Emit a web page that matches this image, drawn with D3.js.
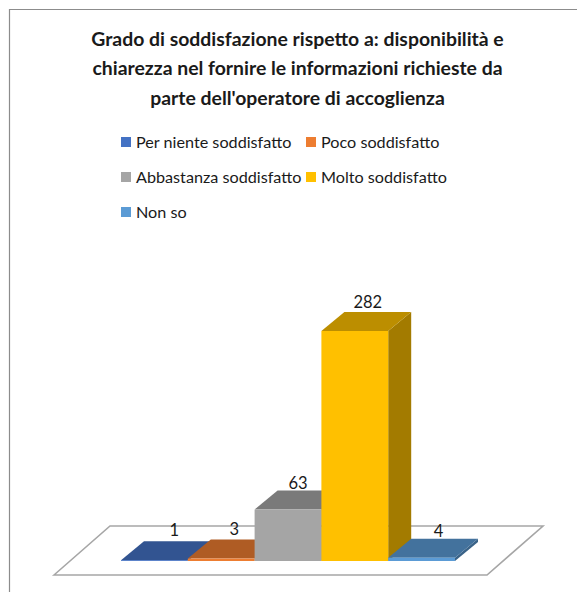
<!DOCTYPE html>
<html><head><meta charset="utf-8">
<script src="https://cdn.jsdelivr.net/npm/d3@7"></script>
<style>html,body{margin:0;padding:0;background:#fff;overflow:hidden}svg{display:block}text{font-family:Lato,"Open Sans",sans-serif;fill:#1a1a1a}</style>
</head><body>
<script>
const titleLines = ["Grado di soddisfazione rispetto a: disponibilità e","chiarezza nel fornire le informazioni richieste da","parte dell'operatore di accoglienza"];
const categories = ["Per niente soddisfatto","Poco soddisfatto","Abbastanza soddisfatto","Molto soddisfatto","Non so"];
const values = [1,3,63,282,4];
const frontColors = ["#4472c4","#ed7d31","#a5a5a5","#ffc000","#5b9bd5"];
const legendColumn = [0,1,0,1,0];
const legendRow = [0,0,1,1,2];

const W=577,H=592;
const svg=d3.select("body").append("svg").attr("width",W).attr("height",H);
const dx=23,dy=19;
const x=d3.scaleBand().domain(categories).range([121,455]).paddingInner(0).paddingOuter(0);
const y=d3.scaleLinear().domain([0,282]).range([561,331]);

// hand-placed data label nudges, as placed in the original chart
const labelShiftX=[20,13,10,13,17];
const labelShiftY=[-1,0,3,0,3];

// frame
svg.append("path").attr("d",`M9.5,${H}V9.5H${W}`).attr("fill","none").attr("stroke","#8c8c8c").attr("stroke-width",1.2);

// title
svg.append("g").selectAll("text").data(titleLines).join("text")
  .attr("x",297.5).attr("y",(d,i)=>45.5+i*29.5).attr("text-anchor","middle")
  .attr("font-size",19.4).attr("font-weight",700).text(d=>d);

// legend
const lx=d3.scaleOrdinal().domain([0,1]).range([121,306]);
const ly=d3.scaleOrdinal().domain([0,1,2]).range([142,177,212]);
const leg=svg.append("g").selectAll("g").data(categories).join("g")
  .attr("transform",(d,i)=>`translate(${lx(legendColumn[i])},${ly(legendRow[i])})`);
leg.append("rect").attr("x",0).attr("y",-5).attr("width",10).attr("height",10).attr("fill",(d,i)=>frontColors[i]);
leg.append("text").attr("x",15).attr("y",6).attr("font-size",16.2).text(d=>d);

// floor
svg.append("path").attr("d",d3.line()([[54,575],[110,526],[543,526],[487,575]])+"Z")
  .attr("fill","#fff").attr("stroke","#a6a6a6").attr("stroke-width",1.6);

// bars
const line=d3.line();
const bars=svg.append("g").selectAll("g").data(categories).join("g");
bars.each(function(c,i){
  const g=d3.select(this),x0=x(c),x1=x0+x.bandwidth(),yt=y(values[i]),yb=y(0);
  const col=d3.color(frontColors[i]);
  g.append("path").attr("d",line([[x1,yt],[x1+dx,yt-dy],[x1+dx,yb-dy],[x1,yb]])+"Z").attr("fill",col.darker(1.25));
  g.append("path").attr("d",line([[x0,yt],[x0+dx,yt-dy],[x1+dx,yt-dy],[x1,yt]])+"Z").attr("fill",col.darker(0.85));
  g.append("rect").attr("x",x0).attr("y",yt).attr("width",x.bandwidth()).attr("height",yb-yt).attr("fill",col);
});

// labels
svg.append("g").selectAll("text").data(categories).join("text")
  .attr("x",(c,i)=>x(c)+x.bandwidth()/2+labelShiftX[i]).attr("y",(c,i)=>y(values[i])-dy-4.5+labelShiftY[i])
  .attr("text-anchor","middle").attr("font-size",16.5).text((c,i)=>values[i]);
</script>
</body></html>
